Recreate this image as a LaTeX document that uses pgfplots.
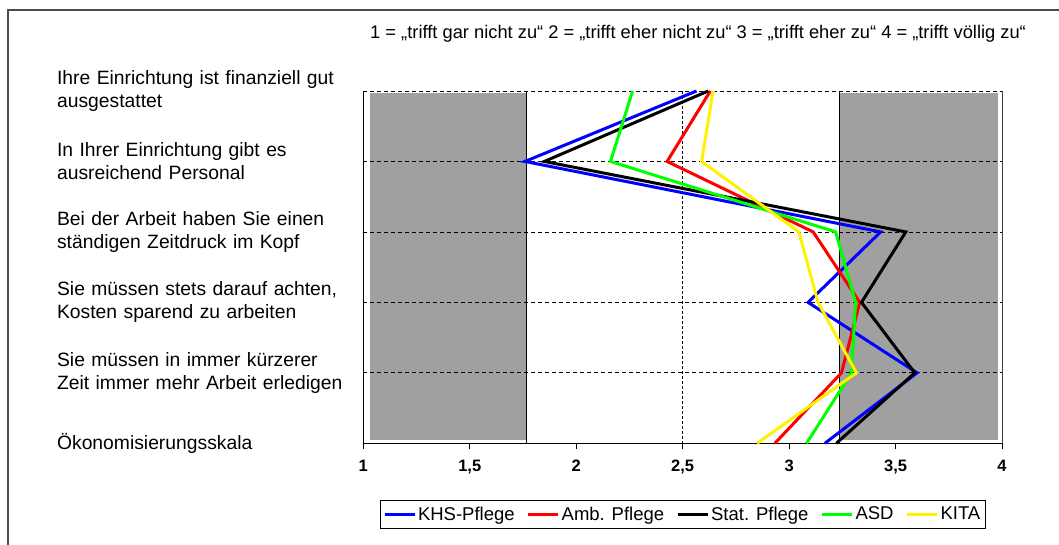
\documentclass[border=0pt]{standalone}
\usepackage{fontspec}
\setmainfont{Liberation Sans}
\usepackage{pgfplots}
\pgfplotsset{compat=1.18}

\definecolor{boxgrey}{HTML}{A0A0A0}

\begin{document}
\begin{tikzpicture}
% frame of the chart area
\draw[black!70, line width=1.2pt] (8pt,-5pt) rectangle (1065pt,535pt);

% explanation of the scale
\node[anchor=west, inner sep=0pt, font=\fontsize{18.3}{21}\selectfont]
  at (370pt,511pt) {1 = „trifft gar nicht zu“ 2 = „trifft eher nicht zu“ 3 = „trifft eher zu“ 4 = „trifft völlig zu“};

\begin{axis}[
    at={(363.3pt,101.7pt)}, anchor=south west,
    scale only axis,
    width=638.7pt, height=352.3pt,
    set layers,
    clip=false,
    xmin=1, xmax=4,
    ymin=0, ymax=5,
    y dir=reverse,
    axis x line*=bottom,
    axis y line*=left,
    axis line style={line width=0.9pt, -},
    xtick={1,1.5,2,2.5,3,3.5,4},
    /pgf/number format/use comma,
    /pgf/number format/assume math mode=true,
    xticklabel style={font=\fontsize{16.5}{18}\selectfont\bfseries, yshift=-7pt},
    tick align=outside,
    x tick style={line width=0.9pt, black},
    major tick length=6pt,
    ytick={0,1,2,3,4,5},
    y tick style={draw=none},
    yticklabels={
        {Ihre Einrichtung ist finanziell gut\\ausgestattet},
        {In Ihrer Einrichtung gibt es\\ausreichend Personal},
        {Bei der Arbeit haben Sie einen\\ständigen Zeitdruck im Kopf},
        {Sie müssen stets darauf achten,\\Kosten sparend zu arbeiten},
        {Sie müssen in immer kürzerer\\Zeit immer mehr Arbeit erledigen},
        {Ökonomisierungsskala}},
    yticklabel style={font=\fontsize{19.3}{22.8}\selectfont, align=left,
        text width=302pt, inner sep=0pt, xshift=2pt},
    ymajorgrids,
    y grid style={black, line width=0.8pt, dash pattern=on 4pt off 3pt},
    legend columns=5,
    legend style={at={(0.5,-0.2015)}, anchor=center, draw=black,
        line width=0.8pt, font=\fontsize{18.5}{20}\selectfont,
        inner ysep=4.5pt,
        /tikz/every even column/.append style={column sep=10pt}},
    legend image code/.code={\draw[#1] (0pt,0pt) -- (30pt,0pt);},
]

\begin{pgfonlayer}{axis background}
\fill[boxgrey] (axis cs:1.03,0.03) rectangle (axis cs:1.767,4.96);
\fill[boxgrey] (axis cs:3.238,0.03) rectangle (axis cs:3.98,4.96);
\end{pgfonlayer}
\draw[black, line width=1pt] (axis cs:1.767,0) -- (axis cs:1.767,5);
\draw[black, line width=1pt] (axis cs:3.238,0) -- (axis cs:3.238,5);
\draw[black, line width=0.9pt, dash pattern=on 3pt off 2pt] (axis cs:2.5,0) -- (axis cs:2.5,5);
\draw[black!75, line width=1pt] (axis cs:4,0) -- (axis cs:4,5);

\addplot[color=blue, line width=3pt] coordinates {
    (2.565,0) (1.759,1) (3.430,2) (3.089,3) (3.601,4) (3.168,5)
};
\addlegendentry{KHS-Pflege}

\addplot[color=red, line width=3pt] coordinates {
    (2.630,0) (2.427,1) (3.113,2) (3.332,3) (3.246,4) (2.933,5)
};
\addlegendentry{Amb. Pflege}

\addplot[color=black, line width=3pt] coordinates {
    (2.620,0) (1.850,1) (3.548,2) (3.340,3) (3.590,4) (3.222,5)
};
\addlegendentry{Stat. Pflege}

\addplot[color=green, line width=3pt] coordinates {
    (2.265,0) (2.161,1) (3.219,2) (3.312,3) (3.293,4) (3.082,5)
};
\addlegendentry{ASD}

\addplot[color=yellow, line width=3pt] coordinates {
    (2.643,0) (2.589,1) (3.046,2) (3.136,3) (3.316,4) (2.850,5)
};
\addlegendentry{KITA}

\end{axis}
\pgfresetboundingbox
\useasboundingbox (0pt,0pt) rectangle (1059pt,545pt);
\end{tikzpicture}
\end{document}
